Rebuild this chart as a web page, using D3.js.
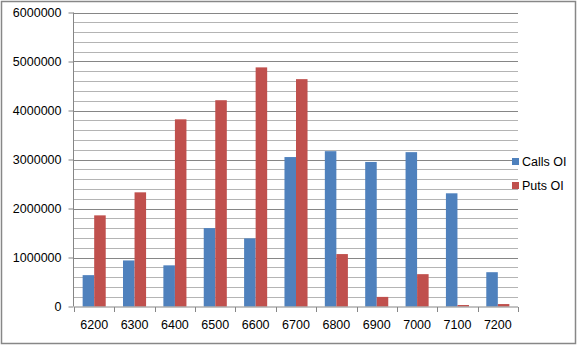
<!DOCTYPE html>
<html lang="en">
<head>
  <meta charset="utf-8">
  <title>Calls OI / Puts OI</title>
  <script src="https://d3js.org/d3.v7.min.js"></script>
  <style>
    body { margin: 0; background: #fff; }
    svg { display: block; font-family: "Liberation Sans", Arial, sans-serif; font-size: 12.5px; }
    .axis path, .axis line { stroke: #868686; }
    .axis text { fill: #000; font-family: "Liberation Sans", Arial, sans-serif; font-size: 12.5px; }
  </style>
</head>
<body>
<svg width="578" height="346"></svg>
<script>

var strikes = ['6200', '6300', '6400', '6500', '6600', '6700', '6800', '6900', '7000', '7100', '7200'];
var callsOI = [640000, 940000, 840000, 1600000, 1390000, 3050000, 3170000, 2950000, 3150000, 2310000, 700000];
var putsOI  = [1860000, 2330000, 3820000, 4210000, 4880000, 4640000, 1070000, 196000, 660000, 30000, 50000];
var seriesNames = ['Calls OI', 'Puts OI'];
var colors = ['#4f81bd', '#c0504d'];
var yTicks = [0, 1000000, 2000000, 3000000, 4000000, 5000000, 6000000];

var svg = d3.select('svg');

// outer frame
svg.append('rect')
  .attr('x', 1.5).attr('y', 1.5)
  .attr('width', 574).attr('height', 342)
  .attr('fill', '#fff')
  .attr('stroke', '#878787')
  .attr('stroke-width', 1.5);

var plotLeft = 74, plotRight = 518, plotTop = 12.5, plotBottom = 306.5;

var x = d3.scaleBand()
  .domain(strikes)
  .range([plotLeft, plotRight]);

var inner = d3.scaleBand()
  .domain(seriesNames)
  .range([0, x.bandwidth()])
  .paddingInner(0)
  .paddingOuter(0.75);

var y = d3.scaleLinear()
  .domain([0, 6000000])
  .range([plotBottom, plotTop]);

// minor grid every 200000
svg.append('g')
  .selectAll('line')
  .data(d3.range(0, 6000001, 200000).filter(v => v % 1000000 !== 0))
  .join('line')
  .attr('x1', plotLeft).attr('x2', plotRight)
  .attr('y1', d => Math.round(y(d)) + 0.5)
  .attr('y2', d => Math.round(y(d)) + 0.5)
  .attr('stroke', '#b4b4b4');

// major grid
svg.append('g')
  .selectAll('line')
  .data(yTicks.slice(1))
  .join('line')
  .attr('x1', plotLeft).attr('x2', plotRight)
  .attr('y1', d => Math.round(y(d)) + 0.5)
  .attr('y2', d => Math.round(y(d)) + 0.5)
  .attr('stroke', '#868686');

// bars
var rows = strikes.map((s, i) => ({ strike: s, values: [callsOI[i], putsOI[i]] }));

var groups = svg.append('g')
  .selectAll('g')
  .data(rows)
  .join('g')
  .attr('transform', d => `translate(${x(d.strike)},0)`);

groups.selectAll('rect')
  .data(d => d.values.map((v, k) => ({ name: seriesNames[k], value: v, k })))
  .join('rect')
  .attr('x', d => inner(d.name))
  .attr('width', inner.bandwidth())
  .attr('y', d => y(d.value))
  .attr('height', d => plotBottom - y(d.value))
  .attr('fill', d => colors[d.k]);

// y axis
var yAxis = svg.append('g')
  .attr('class', 'axis')
  .attr('transform', `translate(${plotLeft - 0.5},0)`)
  .call(d3.axisLeft(y).tickValues(yTicks).tickFormat(d3.format('d')).tickSize(5).tickPadding(7));
yAxis.select('.domain').attr('d', `M0,${plotTop}V${plotBottom}`);

// x axis (ticks at category boundaries)
var xAxis = svg.append('g')
  .attr('class', 'axis')
  .attr('transform', `translate(0,${plotBottom + 0.5})`)
  .call(d3.axisBottom(x).tickSize(0).tickPadding(13));
xAxis.select('.domain').attr('d', `M${plotLeft},0H${plotRight}`);

xAxis.selectAll('.sep')
  .data(strikes.map(s => x(s)).concat([plotRight]))
  .join('line')
  .attr('class', 'sep')
  .attr('x1', d => Math.round(d) + 0.5).attr('x2', d => Math.round(d) + 0.5)
  .attr('y1', 0).attr('y2', 5)
  .attr('stroke', '#868686');

// legend
var legend = svg.append('g')
  .selectAll('g')
  .data(seriesNames)
  .join('g')
  .attr('transform', (d, i) => `translate(512,${158 + i * 24})`);

legend.append('rect')
  .attr('width', 7).attr('height', 7)
  .attr('fill', (d, i) => colors[i]);

legend.append('text')
  .attr('x', 10)
  .attr('y', 3.5)
  .attr('dy', '0.35em')
  .text(d => d);

</script>
</body>
</html>
